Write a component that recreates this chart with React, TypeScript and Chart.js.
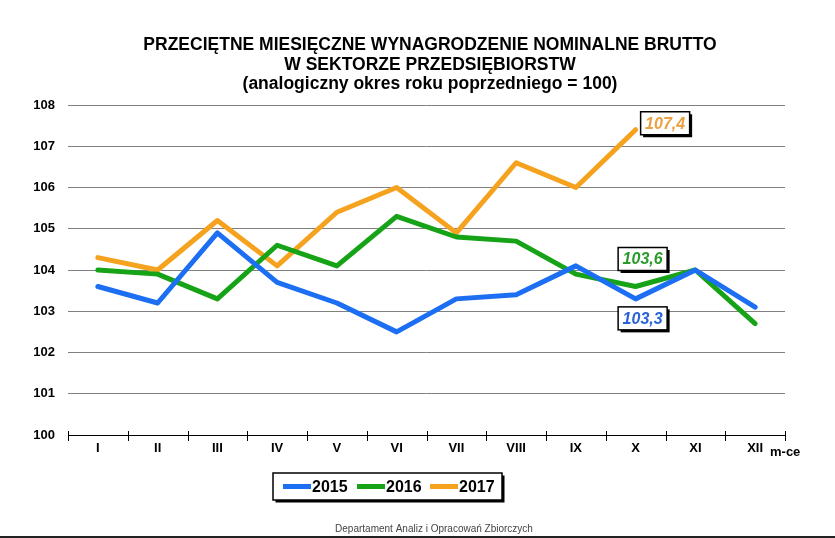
import React, { useEffect, useRef } from "react";
import { Chart, registerables } from "chart.js";

Chart.register(...registerables);

const months = ["I", "II", "III", "IV", "V", "VI", "VII", "VIII", "IX", "X", "XI", "XII"];
const years = ["2015", "2016", "2017"];
const values2015 = [103.6, 103.2, 104.9, 103.7, 103.2, 102.5, 103.3, 103.4, 104.1, 103.3, 104.0, 103.1];
const values2016 = [104.0, 103.9, 103.3, 104.6, 104.1, 105.3, 104.8, 104.7, 103.9, 103.6, 104.0, 102.7];
const values2017 = [104.3, 104.0, 105.2, 104.1, 105.4, 106.0, 104.9, 106.6, 106.0, 107.4, null, null];
const yTicks = [100, 101, 102, 103, 104, 105, 106, 107, 108];
const titleLines = [
  "PRZECIĘTNE MIESIĘCZNE WYNAGRODZENIE NOMINALNE BRUTTO",
  "W SEKTORZE PRZEDSIĘBIORSTW",
  "(analogiczny okres roku poprzedniego = 100)",
];
const axisUnit = "m-ce";
const footerText = "Departament Analiz i Opracowań Zbiorczych";
const labelIndex = 9;

const colors = ["#1c6ef2", "#17a317", "#f5a21f"];
const labelColors = ["#2a62d8", "#2a9a2a", "#eba040"];
const FONT = "'Liberation Sans', Arial, sans-serif";

function fmt(v: number) {
  return v.toFixed(1).replace(".", ",");
}

function shadowBox(ctx: CanvasRenderingContext2D, x: number, y: number, w: number, h: number) {
  ctx.save();
  ctx.fillStyle = "#000";
  ctx.fillRect(x + 2.5, y + 2.5, w, h);
  ctx.fillStyle = "#fff";
  ctx.fillRect(x, y, w, h);
  ctx.strokeStyle = "#000";
  ctx.lineWidth = 1.5;
  ctx.strokeRect(x, y, w, h);
  ctx.restore();
}

const decorPlugin = {
  id: "decor",
  afterDraw(chart: any) {
    const ctx: CanvasRenderingContext2D = chart.ctx;
    const area = chart.chartArea;
    const xs = chart.scales.x;
    const ys = chart.scales.y;
    ctx.save();
    // title
    ctx.fillStyle = "#000";
    ctx.textAlign = "center";
    ctx.textBaseline = "alphabetic";
    ctx.font = `bold 17.5px ${FONT}`;
    const baselines = [49.5, 70, 89];
    titleLines.forEach((t, i) => ctx.fillText(t, 430, baselines[i]));

    // tick marks on category axis
    ctx.strokeStyle = "#000";
    ctx.lineWidth = 1;
    const n = months.length;
    for (let i = 0; i <= n; i++) {
      const x = Math.round(area.left + (i * (area.right - area.left)) / n) + 0.5;
      ctx.beginPath();
      ctx.moveTo(x, area.bottom - 4);
      ctx.lineTo(x, area.bottom + 6);
      ctx.stroke();
    }

    // unit label
    ctx.font = `bold 13px ${FONT}`;
    ctx.textAlign = "left";
    ctx.textBaseline = "middle";
    ctx.fillText(axisUnit, area.right - 15, 452);

    // value labels
    ctx.font = `italic bold 16px ${FONT}`;
    ctx.textAlign = "center";
    ctx.textBaseline = "middle";
    const seriesList = [values2015, values2016, values2017];
    const placements = [
      { dx: 7, dy: 8, align: "below" },
      { dx: 7, dy: -16, align: "above" },
      { dx: 5, dy: -18, align: "right" },
    ];
    seriesList.forEach((vals, si) => {
      const v = vals[labelIndex] as number;
      const px = xs.getPixelForValue(labelIndex);
      const py = ys.getPixelForValue(v);
      const w = 49, h = 23;
      const p = placements[si];
      let bx: number, by: number;
      if (p.align === "right") {
        bx = px + p.dx;
        by = py + p.dy;
      } else if (p.align === "above") {
        bx = px + p.dx - w / 2;
        by = py + p.dy - h;
      } else {
        bx = px + p.dx - w / 2;
        by = py + p.dy;
      }
      shadowBox(ctx, bx, by, w, h);
      ctx.fillStyle = labelColors[si];
      ctx.fillText(fmt(v), bx + w / 2, by + h / 2 + 1);
    });

    // legend
    const lx = 273, ly = 473, lw = 229, lh = 27;
    shadowBox(ctx, lx, ly, lw, lh);
    ctx.font = `bold 16px ${FONT}`;
    ctx.textAlign = "left";
    ctx.textBaseline = "middle";
    const itemX = [283, 357, 430];
    years.forEach((y, i) => {
      ctx.strokeStyle = colors[i];
      ctx.lineWidth = 5;
      ctx.lineCap = "butt";
      ctx.beginPath();
      ctx.moveTo(itemX[i], ly + lh / 2);
      ctx.lineTo(itemX[i] + 28, ly + lh / 2);
      ctx.stroke();
      ctx.fillStyle = "#000";
      ctx.fillText(y, itemX[i] + 29, ly + lh / 2 + 1);
    });

    // footer
    ctx.font = `10px ${FONT}`;
    ctx.fillStyle = "#444";
    ctx.textAlign = "center";
    ctx.textBaseline = "middle";
    ctx.fillText(footerText, 434, 529);

    // bottom line
    ctx.strokeStyle = "#222";
    ctx.lineWidth = 2;
    ctx.beginPath();
    ctx.moveTo(0, 537);
    ctx.lineTo(835, 537);
    ctx.stroke();
    ctx.restore();
  },
};

export default function App() {
  const ref = useRef<HTMLCanvasElement | null>(null);
  useEffect(() => {
    if (!ref.current) return;
    const mk = (label: string, data: (number | null)[], i: number) => ({
      label,
      data,
      borderColor: colors[i],
      backgroundColor: colors[i],
      borderWidth: 5,
      pointRadius: 0,
      tension: 0,
      borderJoinStyle: "round" as const,
      borderCapStyle: "round" as const,
      spanGaps: false,
    });
    const chart = new Chart(ref.current, {
      type: "line",
      data: {
        labels: months,
        datasets: [mk(years[0], values2015, 0), mk(years[1], values2016, 1), mk(years[2], values2017, 2)],
      },
      options: {
        animation: false,
        responsive: false,
        devicePixelRatio: 1,
        layout: { padding: { top: 105, right: 50, left: 0, bottom: 0 } },
        plugins: {
          legend: { display: false },
          title: { display: false },
          tooltip: { enabled: false },
        },
        scales: {
          x: {
            offset: true,
            grid: { display: true, drawOnChartArea: false, drawTicks: false },
            border: { display: true, color: "#000", width: 1 },
            ticks: {
              color: "#000",
              font: { family: FONT, size: 13, weight: "bold" },
              padding: 6,
              maxRotation: 0,
              autoSkip: false,
            },
            afterFit(scale: any) {
              scale.height = 103;
            },
          },
          y: {
            min: yTicks[0],
            max: yTicks[yTicks.length - 1],
            afterBuildTicks(scale: any) {
              scale.ticks = yTicks.map((v) => ({ value: v }));
            },
            grid: {
              color: (c: any) => (c.tick && c.tick.value === yTicks[0] ? "rgba(0,0,0,0)" : "#808080"),
              lineWidth: 1,
              drawTicks: false,
            },
            border: { display: false },
            ticks: {
              color: "#000",
              font: { family: FONT, size: 13, weight: "bold" },
              padding: 13,
              callback: (v: any) => String(v),
            },
            afterFit(scale: any) {
              scale.width = 68;
            },
          },
        },
      },
      plugins: [decorPlugin],
    });
    return () => chart.destroy();
  }, []);
  return (
    <div style={{ position: "absolute", left: 0, top: 0, width: 835, height: 538, background: "#fff" }}>
      <canvas ref={ref} width={835} height={538} />
    </div>
  );
}
